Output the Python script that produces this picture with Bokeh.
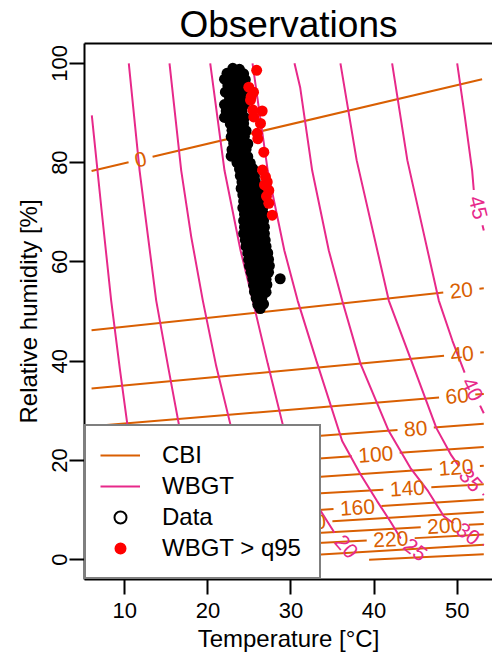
import math

from bokeh.plotting import figure
from bokeh.models import (Range1d, LinearAxis, FixedTicker, Legend, LegendItem,
                          ColumnDataSource)
from bokeh.core.properties import value
from bokeh.embed import file_html
from bokeh.resources import INLINE

FONT = "Liberation Sans"
CBI_COLOR = "#D95F02"
WBGT_COLOR = "#E7298A"

# ---------------------------------------------------------------- axes
temp_ticks = [10, 20, 30, 40, 50]
rh_ticks = [0, 20, 40, 60, 80, 100]
x_start, x_end = 5.15, 54.25
y_start, y_end = -4.0, 104.0

# ---------------------------------------------------------------- CBI isolines
# each isoline is a straight run from (t0, rh0) to (t1, rh1); label_t is where its label sits
cbi_levels = [0, 20, 40, 60, 80, 100, 120, 140, 160, 180, 200, 220, 240, 260]
cbi_t0 = [6.0, 6.0, 6.0, 6.0, 6.0, 6.0, 6.0, 6.0, 6.0, 6.0, 6.0, 6.0, 23.4, 39.4]
cbi_rh0 = [78.3, 46.2, 34.5, 26.9, 21.5, 17.2, 13.6, 10.8, 7.1, 4.8, 2.9, 1.0, 0.0, 0.0]
cbi_t1 = [53.0, 53.2, 53.2, 53.2, 53.2, 53.2, 53.2, 53.2, 53.2, 53.2, 53.2, 53.2, 53.2, 53.2]
cbi_rh1 = [96.8, 54.7, 41.8, 33.4, 27.4, 22.7, 18.9, 15.2, 12.1, 9.6, 7.2, 5.05, 3.0, 1.1]
cbi_label_t = [11.9, 50.5, 50.6, 50.0, 45.0, 40.2, 49.85, 44.0, 38.0, 32.1, 48.5, 42.0, None, None]

# ---------------------------------------------------------------- WBGT isolines
wbgt_levels = [5, 10, 15, 20, 25, 30, 35, 40, 45]
wbgt_t = [
    [6.03, 7.2, 8.36, 9.4, 10.36, 11.3, 12.1],
    [10.48, 11.78, 12.8, 13.78, 15.2, 16.58, 18.0, 19.3],
    [15.38, 16.79, 18.0, 19.39, 21.0, 22.8, 25.0, 27.2],
    [20.28, 22.0, 23.93, 25.4, 27.2, 29.1, 31.2, 33.35, 35.35, 38.0],
    [25.37, 27.2, 29.2, 30.8, 33.07, 36.16, 38.36, 40.36, 41.96, 43.18, 46.5],
    [30.42, 31.1, 32.55, 34.55, 36.16, 38.36, 41.77, 44.36, 46.5, 48.39, 53.2],
    [35.95, 37.9, 41.77, 44.5, 47.5, 49.3, 50.4, 53.2],
    [42.17, 44.0, 45.9, 47.79, 49.43, 51.0, 53.2],
    [50.0, 50.9, 51.8, 52.0, 53.2],
]
wbgt_rh = [
    [89.5, 70.5, 52.2, 38.5, 26.6, 13.8, 0.0],
    [100.0, 78.4, 65.0, 52.2, 39.0, 26.6, 13.0, 0.0],
    [100.0, 78.4, 65.0, 52.2, 39.0, 26.6, 13.0, 0.0],
    [100.0, 78.4, 62.3, 52.2, 39.5, 26.6, 17.0, 10.4, 5.1, 0.0],
    [100.0, 78.4, 62.3, 52.2, 40.0, 23.9, 17.2, 11.8, 7.7, 4.36, 0.0],
    [100.0, 95.2, 78.4, 62.3, 52.2, 39.5, 25.9, 18.5, 13.8, 8.75, 2.9],
    [100.0, 80.5, 52.2, 40.0, 26.5, 21.0, 18.4, 13.0],
    [100.0, 80.5, 66.3, 52.2, 44.1, 37.2, 29.5],
    [100.0, 89.5, 78.4, 74.4, 66.3],
]
# label anchor of each WBGT isoline (None: no label)
wbgt_label_t = [None, None, None, 36.7, 45.0, 51.1, 51.5, 51.75, 52.45]
wbgt_label_rh = [None, None, None, 2.7, 2.1, 4.7, 15.8, 34.3, 70.9]

# ---------------------------------------------------------------- observations
obs_temp = [
    23.0, 23.8,
    22.3, 23.4, 24.3,
    22.0, 22.9, 23.8, 24.5,
    22.4, 23.3, 24.2,
    22.1, 23.0, 23.9, 24.6,
    22.6, 23.5, 24.3,
    22.0, 22.9, 23.8, 24.4,
    22.2, 23.2, 24.1,
    22.0, 22.8, 23.6, 24.4,
    22.7, 23.5, 24.3,
    22.9, 23.8, 24.6,
    22.8, 23.6, 24.4,
    23.1, 24.0, 24.8,
    22.9, 23.7, 24.6,
    22.8, 23.9, 24.8,
    23.5, 24.3, 25.1,
    23.8, 24.6, 25.4,
    23.9, 24.8, 25.6,
    24.1, 24.9, 25.7,
    24.0, 24.8, 25.6, 26.2,
    24.2, 25.0, 25.8, 26.4,
    24.3, 25.1, 25.9, 26.5,
    24.2, 25.0, 25.8, 26.6,
    24.4, 25.2, 26.0, 26.7,
    24.3, 25.1, 25.9, 26.7,
    24.4, 25.2, 26.0, 26.8,
    24.3, 25.1, 25.9, 26.8,
    24.5, 25.3, 26.1, 26.9,
    24.6, 25.4, 26.2, 27.0,
    24.8, 25.6, 26.4, 27.2,
    24.9, 25.7, 26.5, 27.3,
    25.0, 25.8, 26.6, 27.4,
    25.2, 26.0, 26.8, 27.3,
    25.4, 26.2, 27.0, 28.7,
    25.5, 26.3, 27.1,
    25.6, 26.4, 27.0,
    25.8, 26.5,
    26.0, 26.7,
    26.3,
]
obs_rh = [
    99.0, 98.8,
    98.0, 98.2, 97.9,
    96.8, 96.6, 96.9, 96.7,
    95.5, 95.4, 95.6,
    94.2, 94.3, 94.1, 94.2,
    93.0, 92.9, 93.1,
    91.7, 91.8, 91.6, 91.7,
    90.4, 90.5, 90.3,
    89.1, 89.0, 89.2, 89.1,
    87.8, 87.7, 87.9,
    86.5, 86.6, 86.4,
    85.2, 85.1, 85.3,
    83.9, 84.0, 83.8,
    82.6, 82.5, 82.7,
    81.3, 81.4, 81.2,
    80.0, 80.1, 79.9,
    78.7, 78.6, 78.8,
    77.4, 77.5, 77.3,
    76.1, 76.0, 76.2,
    74.8, 74.9, 74.7, 74.8,
    73.5, 73.4, 73.6, 73.5,
    72.2, 72.3, 72.1, 72.2,
    70.9, 70.8, 71.0, 70.9,
    69.6, 69.7, 69.5, 69.6,
    68.3, 68.2, 68.4, 68.3,
    67.0, 67.1, 66.9, 67.0,
    65.7, 65.6, 65.8, 65.7,
    64.4, 64.5, 64.3, 64.4,
    63.1, 63.0, 63.2, 63.1,
    61.8, 61.9, 61.7, 61.8,
    60.5, 60.4, 60.6, 60.5,
    59.2, 59.3, 59.1, 59.2,
    57.9, 57.8, 58.0, 57.9,
    56.6, 56.7, 56.5, 56.6,
    55.3, 55.2, 55.4,
    54.0, 54.1, 53.9,
    52.7, 52.8,
    51.4, 51.5,
    50.6,
]
# observations whose WBGT exceeds the 95th percentile
q95_temp = [25.87, 24.92, 25.49, 25.21, 25.13, 25.40, 26.53, 25.52, 26.33, 25.93,
            26.0, 26.73, 26.57, 26.93, 26.81, 27.14, 27.05, 27.33, 27.33, 27.74]
q95_rh = [98.6, 95.2, 94.2, 93.3, 92.6, 90.6, 90.4, 89.2, 87.9, 85.9,
          84.8, 82.1, 78.5, 77.1, 75.5, 76.1, 73.2, 74.4, 71.8, 69.4]

legend_labels = ["CBI", "WBGT", "Data", "WBGT > q95"]

# ---------------------------------------------------------------- geometry helpers
FRAME_W, FRAME_H = 408, 536
KX = FRAME_W / (x_end - x_start)   # px per degree
KY = FRAME_H / (y_end - y_start)   # px per % RH
LABEL_PX = 21
DIGIT_W = 0.556 * LABEL_PX
GAP_PAD = 6.5


def split_at_label(ts, rs, lt, lr, text):
    """Break a polyline around its label; return pieces and label placement."""
    px = [t * KX for t in ts]
    py = [r * KY for r in rs]
    lx, ly = lt * KX, lr * KY
    cum = [0.0]
    for i in range(1, len(px)):
        cum.append(cum[-1] + math.hypot(px[i] - px[i - 1], py[i] - py[i - 1]))
    best = None
    for i in range(len(px) - 1):
        dx, dy = px[i + 1] - px[i], py[i + 1] - py[i]
        seg = math.hypot(dx, dy)
        u = ((lx - px[i]) * dx + (ly - py[i]) * dy) / (seg * seg)
        u = min(1.0, max(0.0, u))
        d = math.hypot(px[i] + u * dx - lx, py[i] + u * dy - ly)
        if best is None or d < best[0]:
            best = (d, cum[i] + u * seg, math.atan2(dy, dx))
    _, s0, ang = best
    half = len(text) * DIGIT_W / 2 + GAP_PAD

    def point_at(s):
        s = min(max(s, 0.0), cum[-1])
        for j in range(len(cum) - 1):
            if cum[j + 1] >= s:
                seg = cum[j + 1] - cum[j]
                f = (s - cum[j]) / seg if seg else 0.0
                return ts[j] + f * (ts[j + 1] - ts[j]), rs[j] + f * (rs[j + 1] - rs[j])
        return ts[-1], rs[-1]

    before = [(t, r) for t, r, c in zip(ts, rs, cum) if c < s0 - half]
    after = [(t, r) for t, r, c in zip(ts, rs, cum) if c > s0 + half]
    pieces = []
    if before:
        pieces.append(before + [point_at(s0 - half)])
    if after:
        pieces.append([point_at(s0 + half)] + after)
    if ang > math.pi / 2:
        ang -= math.pi
    if ang < -math.pi / 2:
        ang += math.pi
    lt2, lr2 = point_at(s0)
    return pieces, (lt2, lr2, ang)


def build(lines, labels):
    xs, ys = [], []
    lab = dict(x=[], y=[], text=[], angle=[])
    for (ts, rs), (text, lt, lr) in zip(lines, labels):
        if text is None:
            xs.append(list(ts))
            ys.append(list(rs))
            continue
        pieces, (a, b, ang) = split_at_label(ts, rs, lt, lr, text)
        for pc in pieces:
            xs.append([q[0] for q in pc])
            ys.append([q[1] for q in pc])
        lab["x"].append(a)
        lab["y"].append(b)
        lab["text"].append(text)
        lab["angle"].append(ang)
    return xs, ys, lab


cbi_lines, cbi_labs = [], []
for lev, t0, r0, t1, r1, lt in zip(cbi_levels, cbi_t0, cbi_rh0, cbi_t1, cbi_rh1, cbi_label_t):
    cbi_lines.append(([t0, t1], [r0, r1]))
    if lt is None:
        cbi_labs.append((None, None, None))
    else:
        lr = r0 + (r1 - r0) * (lt - t0) / (t1 - t0)
        cbi_labs.append((str(lev), lt, lr))

wbgt_lines, wbgt_labs = [], []
for lev, ts, rs, lt, lr in zip(wbgt_levels, wbgt_t, wbgt_rh, wbgt_label_t, wbgt_label_rh):
    wbgt_lines.append((ts, rs))
    wbgt_labs.append((None, None, None) if lt is None else (str(lev), lt, lr))

cbi_xs, cbi_ys, cbi_lab = build(cbi_lines, cbi_labs)
wbgt_xs, wbgt_ys, wbgt_lab = build(wbgt_lines, wbgt_labs)

# ---------------------------------------------------------------- figure
p = figure(frame_width=FRAME_W, frame_height=FRAME_H,
           x_range=Range1d(x_start, x_end), y_range=Range1d(y_start, y_end),
           output_backend="svg", toolbar_location=None, title="Observations",
           min_border_left=84, min_border_right=0, min_border_top=43, min_border_bottom=77)
p.outline_line_color = None
p.grid.visible = False
p.background_fill_color = "white"
p.border_fill_color = "white"
p.title.text_font = FONT
p.title.text_font_size = "37px"
p.title.text_font_style = "normal"
p.title.text_color = "black"
p.title.align = "center"
p.title.offset = 0
p.title.standoff = -3

r_cbi = p.multi_line(cbi_xs, cbi_ys, line_color=CBI_COLOR, line_width=2)
r_wbgt = p.multi_line(wbgt_xs, wbgt_ys, line_color=WBGT_COLOR, line_width=2)
p.text(x="x", y="y", text="text", angle="angle", source=ColumnDataSource(cbi_lab),
       text_font=value(FONT), text_font_size=f"{LABEL_PX}px", text_color=CBI_COLOR,
       text_align="center", text_baseline="middle")
p.text(x="x", y="y", text="text", angle="angle", source=ColumnDataSource(wbgt_lab),
       text_font=value(FONT), text_font_size=f"{LABEL_PX}px", text_color=WBGT_COLOR,
       text_align="center", text_baseline="middle")

p.scatter(obs_temp, obs_rh, marker="circle", size=11, fill_color="black", line_color=None)
r_q95 = p.scatter(q95_temp, q95_rh, marker="circle", size=11, fill_color="red", line_color=None)
# open-circle key for the observations (legend only)
r_obs_key = p.scatter(obs_temp, obs_rh, marker="circle", size=11, fill_color=None,
                      line_color="black", line_width=2, visible=False)

# axes
p.xaxis.ticker = FixedTicker(ticks=temp_ticks)
p.yaxis.ticker = FixedTicker(ticks=rh_ticks)
p.xaxis.axis_label = "Temperature [°C]"
p.yaxis.axis_label = "Relative humidity [%]"
for ax in p.xaxis + p.yaxis:
    ax.major_tick_in = 0
    ax.major_tick_out = 15
    ax.minor_tick_line_color = None
    ax.axis_line_width = 2
    ax.major_tick_line_width = 2
    ax.major_label_text_font = FONT
    ax.major_label_text_font_size = "22px"
    ax.major_label_text_color = "black"
    ax.axis_label_text_font = FONT
    ax.axis_label_text_font_size = "24px"
    ax.axis_label_text_font_style = "normal"
    ax.axis_label_text_color = "black"
p.xaxis.major_label_standoff = 8
p.xaxis.axis_label_standoff = 4
p.yaxis.major_label_standoff = 2
p.yaxis.axis_label_standoff = 8
p.yaxis.major_label_orientation = "vertical"

# top edge of the box
top = LinearAxis(ticker=FixedTicker(ticks=[]), axis_line_width=2,
                 major_tick_in=0, major_tick_out=0,
                 major_tick_line_color=None, minor_tick_line_color=None,
                 major_label_text_font_size="0px", major_label_standoff=0)
p.add_layout(top, "above")

# legend
legend = Legend(items=[LegendItem(label=lab, renderers=[r], index=0)
                       for lab, r in zip(legend_labels, [r_cbi, r_wbgt, r_obs_key, r_q95])],
                location="bottom_left", margin=0, padding=14, spacing=1,
                glyph_width=40, glyph_height=30, label_height=30, label_standoff=22,
                label_width=143, border_line_color="black", border_line_width=2,
                background_fill_color="white", background_fill_alpha=1.0,
                inactive_fill_alpha=0.0,
                label_text_font=FONT, label_text_font_size="24px", label_text_color="black")
p.add_layout(legend)

open("out.html", "w").write(file_html(p, INLINE))
